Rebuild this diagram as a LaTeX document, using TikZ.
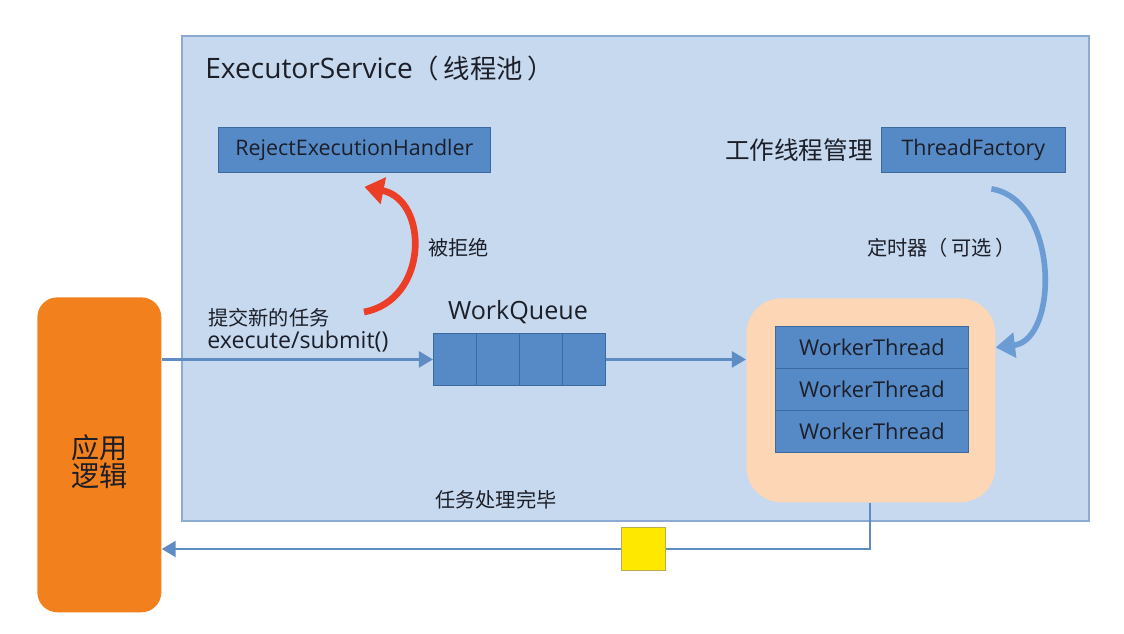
\documentclass[tikz,border=0pt]{standalone}
\usepackage{fontspec}
\setmainfont{Open Sans}
\newfontfamily\cjk{Noto Sans CJK SC}
\usetikzlibrary{arrows.meta}

\definecolor{poolfill}{RGB}{198,217,239}
\definecolor{pooledge}{RGB}{140,170,210}
\definecolor{boxblue}{RGB}{86,138,199}
\definecolor{boxedge}{RGB}{60,105,160}
\definecolor{appor}{RGB}{242,128,28}
\definecolor{peach}{RGB}{252,214,181}
\definecolor{flowblue}{RGB}{95,140,195}
\definecolor{timerblue}{RGB}{108,156,212}
\definecolor{rejred}{RGB}{236,62,38}
\definecolor{tokenyellow}{RGB}{255,232,0}
\definecolor{tokenedge}{RGB}{185,175,80}
\definecolor{ink}{RGB}{28,30,40}

\tikzset{
  blueblock/.style={draw=boxedge, fill=boxblue, line width=0.5pt, text=ink,
    inner sep=0pt, anchor=north west},
  flow/.style={draw=flowblue, line width=1.6pt, -{Triangle[length=8pt,width=9pt]}},
  note/.style={text=ink, inner sep=0pt, font=\cjk\fontsize{11.5pt}{14pt}\selectfont},
  latin/.style={text=ink, inner sep=0pt, font=\rmfamily\fontsize{#1}{#1}\selectfont},
}

\begin{document}
\begin{tikzpicture}[x=0.02cm, y=-0.02cm]
    \useasboundingbox (0,0) rectangle (1124,634);

    % Thread pool frame
    \node[draw=pooledge, fill=poolfill, line width=1pt, anchor=north west,
          minimum width=18.14cm, minimum height=9.7cm] (pool) at (181,35) {};
    \node[latin=16pt, anchor=west] (title) at (205,68)
        {ExecutorService{\cjk\fontsize{15pt}{15pt}\selectfont （\,线程池\,）}};

    % Application logic
    \node[fill=appor, rounded corners=0.4cm, anchor=north west, minimum width=2.48cm,
          minimum height=6.3cm] (app) at (37,297) {};
    \node[text=ink, align=center, font=\cjk\fontsize{16pt}{16pt}\selectfont]
        (applabel) at ([yshift=-4pt]app.center) {应用\\逻辑};

    % Rejection handler and thread factory
    \node[blueblock, latin=12.2pt, minimum width=5.44cm, minimum height=0.9cm] (reject) at (218,127) {RejectExecutionHandler};
    \node[blueblock, latin=12.2pt, minimum width=3.68cm, minimum height=0.9cm] (factory) at (881,127) {ThreadFactory};
    \node[note, font=\cjk\fontsize{14pt}{16pt}\selectfont, anchor=east] (manage) at ([xshift=-0.16cm]factory.west) {工作线程管理};

    % Work queue
    \foreach \i in {1,...,4}
        \node[blueblock, minimum width=0.86cm, minimum height=1.04cm] (q\i) at ({433+43*(\i-1)},333) {};
    \node[latin=14.3pt] (wq) at (518,312) {WorkQueue};

    % Worker threads
    \node[fill=peach, rounded corners=0.7cm, anchor=north west, minimum width=4.98cm,
          minimum height=4.08cm] (workers) at (746,298) {};
    \foreach \i in {1,2,3}
        \node[blueblock, latin=12.4pt, minimum width=3.86cm, minimum height=0.84cm] (w\i) at (775,{326+42*(\i-1)}) {WorkerThread};

    % Flow of tasks
    \draw[flow] (app.east |- q1.west) -- (q1.west);
    \draw[flow] (q4.east) -- (workers.west |- q4.east);
    \coordinate (bend) at (870,549);
    \draw[flow] (workers.south -| bend) -- (bend) -- node[pos=0.32, draw=tokenedge, fill=tokenyellow,
        line width=0.6pt, minimum size=0.87cm, inner sep=0pt] (token) {} (app.east |- bend);
    \node[note, anchor=west] (submit) at (208,318) {提交新的任务};
    \node[latin=13.2pt, anchor=west] (execute) at (207,342) {execute/submit()};
    \node[note, anchor=west] (done) at (435,500) {任务处理完毕};

    % Rejected tasks
    \coordinate (rejfrom) at (364,312);
    \draw[draw=rejred, line width=3.8pt, -{Triangle[length=11pt,width=15pt]}]
        (rejfrom) .. controls (429,300) and (429,200) .. ([shift={(10,14)}]reject.south);
    \node[note, anchor=west] (refused) at (428,248) {被拒绝};

    % Optional timer
    \draw[draw=timerblue, line width=3.2pt, -{Triangle[length=11pt,width=14pt]}]
        ([shift={(18,16)}]factory.south) .. controls (1059,200) and (1059,340) .. (workers.east |- w1);
    \node[note, anchor=west] (timer) at (867,248) {定时器（\,可选\,）};
\end{tikzpicture}
\end{document}
